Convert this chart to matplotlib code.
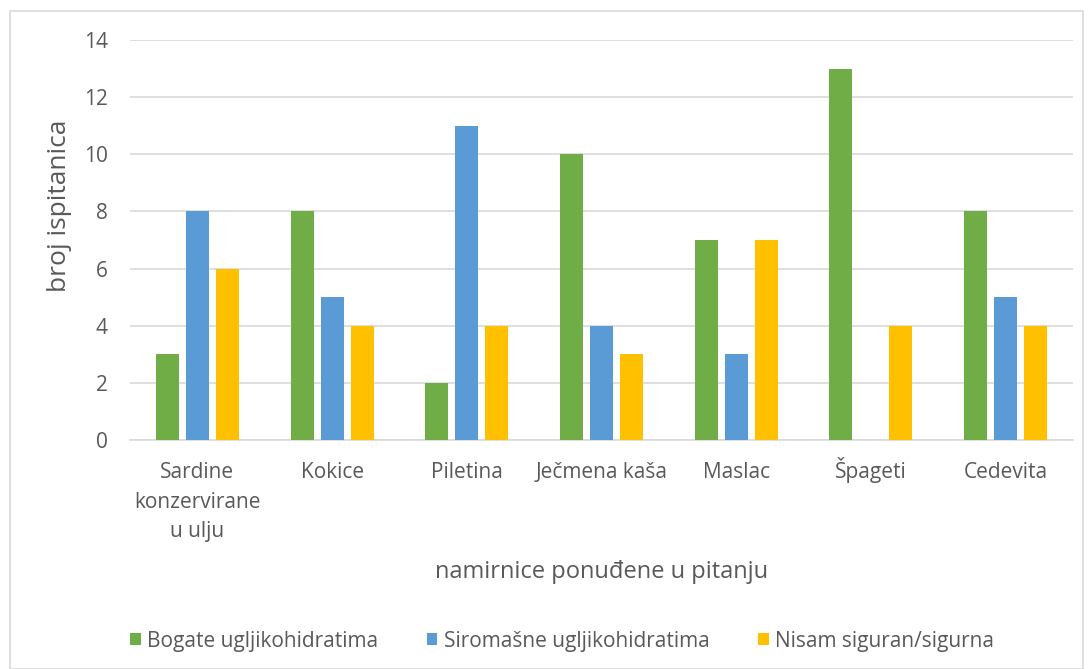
import numpy as np
import matplotlib.pyplot as plt
from matplotlib.patches import Rectangle
from matplotlib.transforms import ScaledTranslation

categories = ["Sardine\nkonzervirane\nu ulju", "Kokice", "Piletina", "Ječmena kaša",
              "Maslac", "Špageti", "Cedevita"]
series_names = ["Bogate ugljikohidratima", "Siromašne ugljikohidratima", "Nisam siguran/sigurna"]
bogate = [3, 8, 2, 10, 7, 13, 8]
siromasne = [8, 5, 11, 4, 3, 0, 5]
nisam = [6, 4, 4, 3, 7, 4, 4]
colors = ["#70AD47", "#5B9BD5", "#FFC000"]

plt.rcParams['font.family'] = ['Open Sans', 'DejaVu Sans']
txt = "#595959"

fig = plt.figure(figsize=(10.88, 6.69), dpi=100)
ax = fig.add_axes([130 / 1088, 1 - 440 / 669, (1073 - 130) / 1088, 400 / 669])

x = np.arange(len(categories))
bw = 0.171
step = 0.223
for i, (vals, name, c) in enumerate(zip([bogate, siromasne, nisam], series_names, colors)):
    ax.bar(x + (i - 1) * step, vals, width=bw, color=c, label=name, zorder=3)

ax.set_xlim(-0.5, len(categories) - 0.5)
ax.set_ylim(0, 14)
ax.set_yticks(range(0, 15, 2))
ax.grid(axis='y', color='#D9D9D9', linewidth=1.2, zorder=0)
for s in ['top', 'right', 'left']:
    ax.spines[s].set_visible(False)
ax.spines['bottom'].set_color('#D9D9D9')
ax.spines['bottom'].set_linewidth(1.2)
ax.tick_params(length=0, labelsize=15, colors=txt)
ax.tick_params(axis='x', pad=16)
ax.tick_params(axis='y', pad=16)
ax.set_xticks(x)
ax.set_xticklabels(categories, linespacing=1.52)
# the caron on "Š" pushes the label down; lift it back to the common baseline
for lbl in ax.get_xticklabels():
    if lbl.get_text().startswith("Š"):
        lbl.set_transform(lbl.get_transform() + ScaledTranslation(0, 5 / 100, fig.dpi_scale_trans))

# axis titles
fig.text(60 / 1088, 1 - 206 / 669, "broj ispitanica", rotation=90,
         ha='center', va='center', fontsize=19, color=txt)
fig.text((130 + 1073) / 2 / 1088, 1 - 572 / 669, "namirnice ponuđene u pitanju",
         ha='center', va='center', fontsize=17, color=txt)

leg = fig.legend(loc='center', bbox_to_anchor=(562 / 1088, 1 - 641 / 669), ncol=3, frameon=False,
                 fontsize=15, handlelength=0.5, handleheight=0.5, columnspacing=2.35,
                 handletextpad=0.3, labelcolor=txt)

# chart border
fig.add_artist(Rectangle((10 / 1088, 0), 1073 / 1088, 1 - 11 / 669, transform=fig.transFigure,
                         fill=False, edgecolor='#D9D9D9', linewidth=1.2))

fig.savefig("out.png", dpi=100)
